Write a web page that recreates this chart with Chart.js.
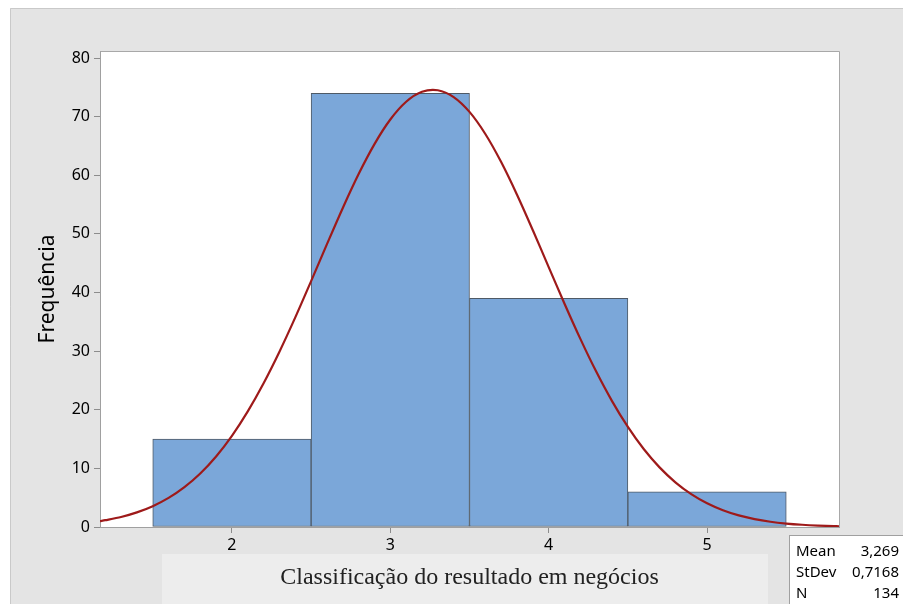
<!DOCTYPE html>
<html>
<head>
<meta charset="utf-8">
<script src="https://cdn.jsdelivr.net/npm/chart.js@4.4.1/dist/chart.umd.min.js"></script>
<style>
  body { margin: 0; background: #ffffff; }
  canvas { display: block; }
</style>
</head>
<body>
<canvas id="histChart" width="903" height="604"></canvas>
<script>
// Histogram bins (bin centers) and frequencies
const binCenters = [2, 3, 4, 5];
const frequencies = [15, 74, 39, 6];

// Fitted normal curve
const curveX = [1.167, 1.2, 1.3, 1.4, 1.5, 1.6, 1.7, 1.8, 1.9, 2.0, 2.1, 2.2, 2.3, 2.4, 2.5, 2.6, 2.7, 2.8, 2.9, 3.0,
  3.1, 3.2, 3.3, 3.4, 3.5, 3.6, 3.7, 3.8, 3.9, 4.0, 4.1, 4.2, 4.3, 4.4, 4.5, 4.6, 4.7, 4.8, 4.9, 5.0,
  5.1, 5.2, 5.3, 5.4, 5.5, 5.6, 5.7, 5.8, 5.833];
const curveY = [1.01, 1.16, 1.71, 2.49, 3.55, 4.96, 6.80, 9.13, 12.04, 15.56, 19.73, 24.53, 29.91, 35.76, 41.95, 48.25, 54.43, 60.21, 65.32, 69.51,
  72.54, 74.24, 74.51, 73.34, 70.81, 67.04, 62.25, 56.68, 50.62, 44.34, 38.09, 32.09, 26.51, 21.48, 17.07, 13.30, 10.17, 7.62, 5.60, 4.04,
  2.86, 1.98, 1.35, 0.90, 0.59, 0.38, 0.24, 0.15, 0.12];

const yTicks = [0, 10, 20, 30, 40, 50, 60, 70, 80];
const xTicks = [2, 3, 4, 5];

const statLabels = ["Mean", "StDev", "N"];
const statValues = ["3,269", "0,7168", "134"];

const xLabel = "Classificação do resultado em negócios";
const yLabel = "Frequência";

// background panel, axis-title box, plot frame and stats box
const decorPlugin = {
  id: "decor",
  beforeDraw(chart) {
    const ctx = chart.ctx;
    ctx.save();
    ctx.fillStyle = "#ffffff";
    ctx.fillRect(0, 0, chart.width, chart.height);
    ctx.fillStyle = "#e4e4e4";
    ctx.fillRect(10, 8, chart.width - 10, chart.height - 8);
    ctx.strokeStyle = "#c9c9c9";
    ctx.lineWidth = 1;
    ctx.beginPath();
    ctx.moveTo(10.5, chart.height);
    ctx.lineTo(10.5, 8.5);
    ctx.lineTo(chart.width, 8.5);
    ctx.stroke();
    // box behind x title
    ctx.fillStyle = "#ededed";
    ctx.fillRect(162, 554, 606, 50);
    // plot area
    const a = chart.chartArea;
    ctx.fillStyle = "#ffffff";
    ctx.fillRect(a.left, a.top, a.right - a.left, a.bottom - a.top);
    ctx.restore();
  },
  afterDraw(chart) {
    const ctx = chart.ctx;
    const a = chart.chartArea;
    ctx.save();
    ctx.strokeStyle = "#a8a8a8";
    ctx.lineWidth = 1;
    ctx.beginPath();
    ctx.moveTo(a.left + 0.5, a.top + 0.5);
    ctx.lineTo(a.right + 0.5, a.top + 0.5);
    ctx.lineTo(a.right + 0.5, a.bottom);
    ctx.stroke();
    // stats box
    ctx.fillStyle = "#ffffff";
    ctx.fillRect(789, 535, 114, 69);
    ctx.strokeStyle = "#a0a0a0";
    ctx.strokeRect(789.5, 535.5, 120, 80);
    ctx.fillStyle = "#000000";
    ctx.font = "15px 'Noto Sans'";
    ctx.textBaseline = "middle";
    for (let i = 0; i < statLabels.length; i++) {
      const y = 552 + i * 21;
      ctx.textAlign = "left";
      ctx.fillText(statLabels[i], 796, y);
      ctx.textAlign = "right";
      ctx.fillText(statValues[i], 899, y);
    }
    ctx.restore();
  }
};

const ctx = document.getElementById("histChart").getContext("2d");
const histChart = new Chart(ctx, {
  type: "bar",
  data: {
    datasets: [
      {
        type: "line",
        label: "Normal",
        data: curveX.map((x, i) => ({ x: x, y: curveY[i] })),
        borderColor: "#9e1a1a",
        borderWidth: 2.2,
        pointRadius: 0,
        tension: 0.3,
        fill: false,
        order: 0
      },
      {
        label: yLabel,
        data: binCenters.map((x, i) => ({ x: x, y: frequencies[i] })),
        backgroundColor: "#7ba7d9",
        borderColor: "#4f5a66",
        borderWidth: 1,
        borderSkipped: false,
        barPercentage: 1,
        categoryPercentage: 1,
        order: 1
      }
    ]
  },
  options: {
    responsive: false,
    devicePixelRatio: 1,
    animation: false,
    layout: { padding: { left: 0, top: 51, right: 64, bottom: 0 } },
    plugins: {
      legend: { display: false },
      tooltip: { enabled: false }
    },
    scales: {
      x: {
        type: "linear",
        offset: false,
        min: 1.167,
        max: 5.833,
        afterFit(scale) { scale.height = 77; },
        afterBuildTicks(scale) { scale.ticks = xTicks.map(v => ({ value: v })); },
        ticks: {
          padding: 3,
          color: "#000000",
          font: { family: "'Noto Sans'", size: 16 },
          maxRotation: 0,
          callback: v => v
        },
        grid: { offset: false, drawOnChartArea: false, tickLength: 6, color: "#8c8c8c" },
        border: { color: "#a0a0a0" },
        title: {
          display: true,
          text: xLabel,
          color: "#222222",
          font: { family: "'Liberation Serif'", size: 24 },
          padding: { top: 0, bottom: 12 }
        }
      },
      y: {
        min: 0,
        max: 81.2,
        afterFit(scale) { scale.width = 100; },
        afterBuildTicks(scale) { scale.ticks = yTicks.map(v => ({ value: v })); },
        ticks: {
          padding: 4,
          color: "#000000",
          font: { family: "'Noto Sans'", size: 16 },
          callback: v => v
        },
        grid: { drawOnChartArea: false, tickLength: 6, color: "#8c8c8c" },
        border: { color: "#a0a0a0" },
        title: {
          display: true,
          text: yLabel,
          color: "#000000",
          font: { family: "'Noto Sans'", size: 21 },
          padding: { top: 35, bottom: 0 }
        }
      }
    }
  },
  plugins: [decorPlugin]
});
</script>
</body>
</html>
